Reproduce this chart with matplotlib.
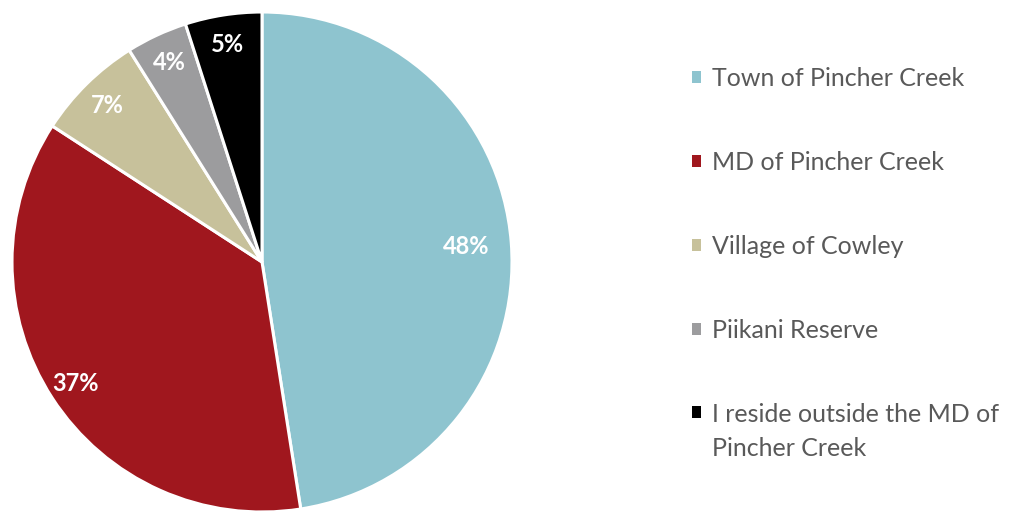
import numpy as np
import matplotlib
matplotlib.use("Agg")
import matplotlib.pyplot as plt
from matplotlib.patches import Rectangle
from matplotlib.legend_handler import HandlerPatch

categories = ["Town of Pincher Creek", "MD of Pincher Creek", "Village of Cowley",
              "Piikani Reserve", "I reside outside the MD of\nPincher Creek"]
shares = [48, 37, 7, 4, 5]
colors = ["#8EC4CF", "#A0171E", "#C7C19B", "#9C9C9E", "#000000"]
label_radius = [0.82, 0.89, 0.88, 0.88, 0.88]

plt.rcParams["font.family"] = ["Lato", "DejaVu Sans"]

LEGEND_SIZE = 18
LINE_SPACING = 1.6


class FirstLineHandler(HandlerPatch):
    """Square key aligned with the first line of a two-line label."""

    def __init__(self, shift, **kw):
        super().__init__(**kw)
        self.shift = shift

    def create_artists(self, legend, orig_handle, xdescent, ydescent,
                       width, height, fontsize, trans):
        p = Rectangle((-xdescent, -ydescent + self.shift), width, height,
                      facecolor=orig_handle.get_facecolor(), edgecolor="none")
        p.set_transform(trans)
        return [p]


fig = plt.figure(figsize=(10.18, 5.12), dpi=100)
ax = fig.add_axes([12 / 1018, 0.0, 500 / 1018, 500 / 512])

wedges, _ = ax.pie(shares, colors=colors, startangle=90, counterclock=False,
                   radius=1.0,
                   wedgeprops=dict(edgecolor="white", linewidth=2.2))
ax.set_xlim(-1, 1)
ax.set_ylim(-1, 1)
ax.set_aspect("equal")
ax.axis("off")

for w, val, r in zip(wedges, shares, label_radius):
    mid = np.deg2rad((w.theta1 + w.theta2) / 2)
    ax.text(r * np.cos(mid), r * np.sin(mid), f"{val}%", ha="center", va="center",
            color="white", fontsize=17, fontweight="bold")

handler_map = {w: HandlerPatch() for w in wedges}
handler_map[wedges[-1]] = FirstLineHandler(shift=0.5 * LINE_SPACING * LEGEND_SIZE)

leg = fig.legend(wedges, categories, loc="upper left",
                 bbox_to_anchor=(692 / 1018, 1 - 67 / 512), frameon=False,
                 fontsize=LEGEND_SIZE, labelcolor="#595959", handlelength=0.35,
                 handleheight=0.35, handletextpad=0.45, labelspacing=2.44,
                 borderpad=0, borderaxespad=0, handler_map=handler_map)
for h in leg.legend_handles:
    h.set_edgecolor("none")
for t in leg.get_texts():
    t.set_linespacing(LINE_SPACING)

fig.savefig("out.png", dpi=100, facecolor="white")
